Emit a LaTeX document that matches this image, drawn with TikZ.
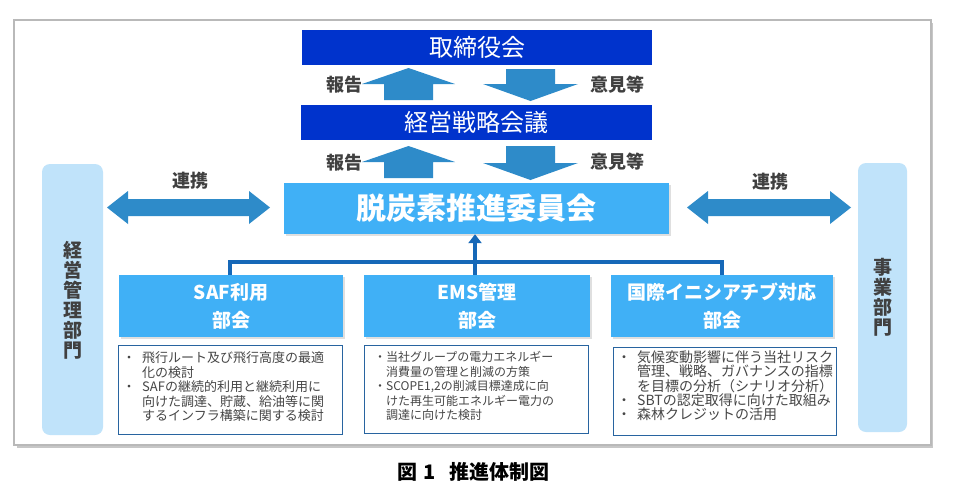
\documentclass[tikz,border=0pt]{standalone}
\usepackage{fontspec}
\setmainfont{Noto Sans CJK JP}
\usetikzlibrary{shadows,arrows.meta}
\definecolor{navy}{RGB}{0,51,204}
\definecolor{arrowblue}{RGB}{46,139,201}
\definecolor{skyblue}{RGB}{64,176,246}
\definecolor{paleblue}{RGB}{192,227,250}
\definecolor{linkblue}{RGB}{22,104,184}
\definecolor{descborder}{RGB}{40,100,160}
\definecolor{labelgray}{RGB}{64,64,64}
\definecolor{textgray}{RGB}{70,70,70}
\definecolor{framegray}{RGB}{185,185,185}
\newcommand\bl[1]{\makebox[#1][l]{・}}
\newcommand\ind[1]{\hspace*{#1}}
\newcommand\uparrowshape[3]{%
  \fill[arrowblue] (#1-46.5,#2+16) -- (#1,#2) -- (#1+46.5,#2+16) -- (#1+24.5,#2+16)
    -- (#1+24.5,#3) -- (#1-24.5,#3) -- (#1-24.5,#2+16) -- cycle;}
\newcommand\downarrowshape[3]{%
  \fill[arrowblue] (#1-24.5,#2) -- (#1+24.5,#2) -- (#1+24.5,#3-17) -- (#1+47.5,#3-17)
    -- (#1,#3) -- (#1-47.5,#3-17) -- (#1-24.5,#3-17) -- cycle;}
\newcommand\dblarrow[3]{%
  \fill[arrowblue] (#1,#3) -- (#1+21,#3-16.5) -- (#1+21,#3-8.5) -- (#2-21,#3-8.5)
    -- (#2-21,#3-16.5) -- (#2,#3) -- (#2-21,#3+16.5) -- (#2-21,#3+8.5)
    -- (#1+21,#3+8.5) -- (#1+21,#3+16.5) -- cycle;}
\begin{document}
\begin{tikzpicture}[x=1pt,y=-1pt,
  topbox/.style={fill=navy, text=white, inner sep=0pt, minimum height=35pt,
    font=\fontsize{24}{24}\selectfont},
  commbox/.style={fill=skyblue, text=white, inner sep=0pt,
    drop shadow={opacity=0.25, shadow xshift=1.5pt, shadow yshift=-2pt}},
  subbox/.style={commbox, minimum height=62pt, align=center,
    font=\bfseries\fontsize{19}{28}\selectfont},
  sidepanel/.style={fill=paleblue, rounded corners=8pt, inner sep=0pt},
  sidetext/.style={text=labelgray, align=center, font=\bfseries\fontsize{19}{20}\selectfont},
  desc/.style={draw=descborder, line width=1pt, fill=white, inner sep=0pt},
  desctext/.style={text=textgray, align=left, inner sep=0pt, anchor=north west},
  lbl/.style={text=labelgray, font=\bfseries\fontsize{18}{18}\selectfont},
  link/.style={draw=linkblue, line width=4pt}
]
\useasboundingbox (0,0) rectangle (953,496);
% frame
\fill[framegray!80] (16.5,22.5) rectangle (933,447.5);
\draw[framegray, line width=1.5pt, fill=white] (14,20) rectangle (931,445);

% top boxes
\node[topbox, minimum width=350pt] (board) at (477,47.5) {取締役会};
\node[topbox, minimum width=351pt] (strategy) at (476.5,122.5) {経営戦略会議};
\node[commbox, minimum width=385pt, minimum height=51pt,
  font=\bfseries\fontsize{30}{30}\selectfont] (comm) at (476.5,208.5) {脱炭素推進委員会};

% up/down block arrows
\uparrowshape{408.5}{68}{100}
\downarrowshape{530.5}{69}{101}
\uparrowshape{408.5}{146}{178}
\downarrowshape{530.5}{146}{180}
\node[lbl] (rep1) at (344,85) {報告};
\node[lbl] (op1) at (617.5,85) {意見等};
\node[lbl] (rep2) at (344,163) {報告};
\node[lbl] (op2) at (617.5,162) {意見等};

% side panels
\node[sidepanel, minimum width=61pt, minimum height=271pt] (mgmt) at (72.5,299.5) {};
\node[sidetext] (mgmtt) at (72.5,300) {経\\営\\管\\理\\部\\門};
\node[sidepanel, minimum width=49pt, minimum height=269pt] (biz) at (882.5,297.5) {};
\node[sidetext] (bizt) at (882.5,297.5) {事\\業\\部\\門};

% collaboration arrows
\dblarrow{107}{270}{207.5}
\dblarrow{687}{851}{207.5}
\node[lbl] (col1) at (190,181) {連携};
\node[lbl] (col2) at (770,182) {連携};

% subcommittees
\node[subbox, minimum width=224pt] (saf) at (231,306) {SAF利用\\部会};
\node[subbox, minimum width=226pt] (ems) at (477,306) {EMS管理\\部会};
\node[subbox, minimum width=222pt] (intl) at (722,306) {国際イニシアチブ対応\\部会};

% connectors
\coordinate (jL) at (230,262);
\coordinate (jR) at (722,262);
\coordinate (jC) at (475,262);
\draw[link] (saf.north -| jL) -- (jL) -- (jR) -- (intl.north -| jR);
\draw[link, -{Triangle[width=13pt,length=9pt]}] (ems.north -| jC) -- (comm.south -| jC);

% descriptions
\node[desc, minimum width=224pt, minimum height=89pt] (safd) at (230,389.5) {};
\node[desctext, font=\fontsize{13}{14.5}\selectfont] (safdt) at (122.5,351.5) {%
\bl{19.5pt}飛行ルート及び飛行高度の最適\\
\ind{19.5pt}化の検討\\
\bl{19.5pt}SAFの継続的利用と継続利用に\\
\ind{19.5pt}向けた調達、貯蔵、給油等に関\\
\ind{19.5pt}するインフラ構築に関する検討};

\node[desc, minimum width=224pt, minimum height=88pt] (emsd) at (476,389) {};
\node[desctext, font=\fontsize{12}{14.5}\selectfont] (emsdt) at (374,351.5) {%
\bl{12pt}当社グループの電力エネルギー\\
\ind{12pt}消費量の管理と削減の方策\\
\bl{12pt}SCOPE1,2の削減目標達成に向\\
\ind{12pt}けた再生可能エネルギー電力の\\
\ind{12pt}調達に向けた検討};

\node[desc, minimum width=223pt, minimum height=88pt] (intld) at (724.5,391) {};
\node[desctext, font=\fontsize{14}{14.3}\selectfont] (intldt) at (617,350.5) {%
\bl{20pt}気候変動影響に伴う当社リスク\\
\ind{20pt}管理、戦略、ガバナンスの指標\\
\ind{20pt}を目標の分析（シナリオ分析）\\
\bl{20pt}SBTの認定取得に向けた取組み\\
\bl{20pt}森林クレジットの活用};

% caption
\node[font=\bfseries\fontsize{20}{20}\selectfont] (caption) at (473.5,472)
  {図\hspace{6pt}1\hspace{14pt}推進体制図};
\end{tikzpicture}
\end{document}
